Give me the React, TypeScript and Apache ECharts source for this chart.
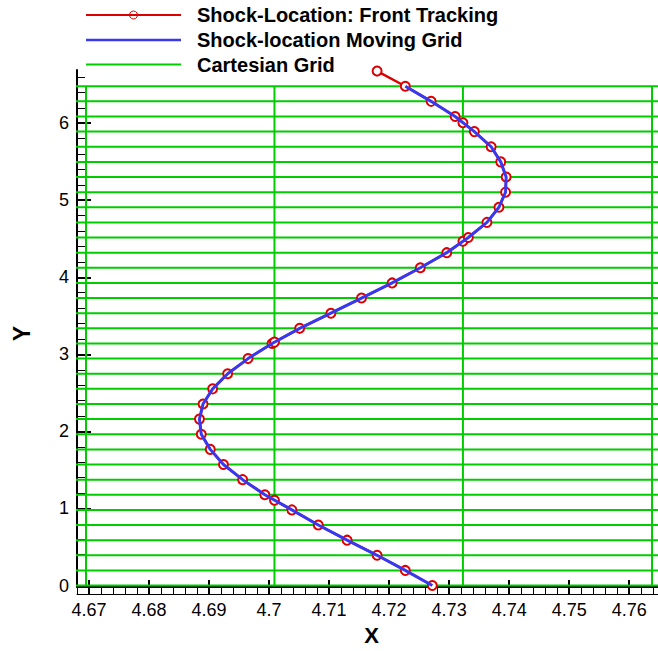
import React, { useEffect, useRef } from "react";
import * as echarts from "echarts";

// Shock location: front tracking (red, with circles)
const frontTrackingX = [4.7272, 4.7227, 4.718, 4.713, 4.7082, 4.7038, 4.7009, 4.6993, 4.6956, 4.6924, 4.6902, 4.6887, 4.6884, 4.689, 4.6906, 4.6931, 4.6965, 4.7005, 4.7009, 4.7051, 4.7103, 4.7154, 4.7205, 4.7252, 4.7296, 4.7323, 4.7332, 4.7363, 4.7383, 4.7394, 4.7395, 4.7386, 4.737, 4.7342, 4.7323, 4.731, 4.727, 4.7227, 4.718];
const frontTrackingY = [0, 0.1963, 0.3927, 0.589, 0.7854, 0.9817, 1.108, 1.1781, 1.3744, 1.5708, 1.7671, 1.9635, 2.1598, 2.3562, 2.5525, 2.7489, 2.9452, 3.1416, 3.159, 3.3379, 3.5343, 3.7306, 3.927, 4.1233, 4.3197, 4.467, 4.516, 4.7124, 4.9087, 5.1051, 5.3014, 5.4978, 5.6941, 5.8905, 6.006, 6.0868, 6.2832, 6.4795, 6.6759];

// Shock location on moving grid (blue)
const movingGridX = [4.7272, 4.7227, 4.718, 4.713, 4.7082, 4.7038, 4.6993, 4.6956, 4.6924, 4.6902, 4.6887, 4.6884, 4.689, 4.6906, 4.6931, 4.6965, 4.7005, 4.7051, 4.7103, 4.7154, 4.7205, 4.7252, 4.7296, 4.7332, 4.7363, 4.7383, 4.7394, 4.7395, 4.7386, 4.737, 4.7342, 4.731, 4.727, 4.7227];
const movingGridY = [0, 0.1963, 0.3927, 0.589, 0.7854, 0.9817, 1.1781, 1.3744, 1.5708, 1.7671, 1.9635, 2.1598, 2.3562, 2.5525, 2.7489, 2.9452, 3.1416, 3.3379, 3.5343, 3.7306, 3.927, 4.1233, 4.3197, 4.516, 4.7124, 4.9087, 5.1051, 5.3014, 5.4978, 5.6941, 5.8905, 6.0868, 6.2832, 6.4795];

// Cartesian grid lines
const cartesianRowsY = [0, 0.1963, 0.3927, 0.589, 0.7854, 0.9817, 1.1781, 1.3744, 1.5708, 1.7671, 1.9635, 2.1598, 2.3562, 2.5525, 2.7489, 2.9452, 3.1416, 3.3379, 3.5343, 3.7306, 3.927, 4.1233, 4.3197, 4.516, 4.7124, 4.9087, 5.1051, 5.3014, 5.4978, 5.6941, 5.8905, 6.0868, 6.2832, 6.4795];
const cartesianColsX = [4.6695, 4.7009, 4.7323, 4.7638];
const cartesianRowSpanX = [4.66, 4.77];
const cartesianColSpanY = [0, 6.4795];

// Axis ticks
const xMajorTicks = [4.67, 4.68, 4.69, 4.7, 4.71, 4.72, 4.73, 4.74, 4.75, 4.76];
const yMajorTicks = [0, 1, 2, 3, 4, 5, 6];
const yMinorTicks = [0.2, 0.4, 0.6, 0.8, 1.2, 1.4, 1.6, 1.8, 2.2, 2.4, 2.6, 2.8, 3.2, 3.4, 3.6, 3.8, 4.2, 4.4, 4.6, 4.8, 5.2, 5.4, 5.6, 5.8, 6.2, 6.4, 6.6];

const legendNames = ["Shock-Location: Front Tracking", "Shock-location Moving Grid", "Cartesian Grid"];

const RED = "#dd0000";
const BLUE = "#3838f0";
const GREEN = "#00cc00";
const FONT = '"Liberation Sans", Arial, Helvetica, sans-serif';

const X_MIN = 4.668;
const X_MAX = 4.7648;
const Y_MIN = -0.02;
const Y_MAX = 6.69;

export default function App() {
  const ref = useRef<HTMLDivElement>(null);

  useEffect(() => {
    if (!ref.current) return;
    const chart = echarts.init(ref.current, undefined, { renderer: "svg" });

    const zip = (xs: number[], ys: number[]) => xs.map((x, i) => [x, ys[i]]);

    const gridSeries: any[] = [];
    cartesianRowsY.forEach((y) => {
      gridSeries.push({
        type: "line",
        name: legendNames[2],
        data: [[cartesianRowSpanX[0], y], [cartesianRowSpanX[1], y]],
        symbol: "none",
        silent: true,
        lineStyle: { color: GREEN, width: 2 },
        z: 1,
      });
    });
    cartesianColsX.forEach((x) => {
      gridSeries.push({
        type: "line",
        name: legendNames[2],
        data: [[x, cartesianColSpanY[0]], [x, cartesianColSpanY[1]]],
        symbol: "none",
        silent: true,
        lineStyle: { color: GREEN, width: 2 },
        z: 1,
      });
    });

    const commonX = {
      type: "value",
      min: X_MIN,
      max: X_MAX,
      position: "bottom",
      splitLine: { show: false },
    };
    const commonY = {
      type: "value",
      min: Y_MIN,
      max: Y_MAX,
      position: "left",
      splitLine: { show: false },
    };

    const legendRowsY = [15, 40, 64.5];
    const legendColors = [RED, BLUE, GREEN];
    const legendWidths = [2, 2.5, 2];
    const graphic: any[] = [];
    legendNames.forEach((n, i) => {
      graphic.push({
        type: "line",
        shape: { x1: 86, y1: legendRowsY[i], x2: 181, y2: legendRowsY[i] },
        style: { stroke: legendColors[i], lineWidth: legendWidths[i] },
        silent: true,
      });
      graphic.push({
        type: "text",
        x: 197,
        y: legendRowsY[i],
        style: {
          text: n,
          fill: "#000",
          font: `bold 20px ${FONT}`,
          verticalAlign: "middle",
          align: "left",
        },
        silent: true,
      });
    });
    graphic.push({
      type: "circle",
      shape: { cx: 133.5, cy: legendRowsY[0], r: 4 },
      style: { fill: "none", stroke: RED, lineWidth: 1 },
      silent: true,
    });

    chart.setOption({
      animation: false,
      backgroundColor: "#fff",
      grid: { left: 77, right: 0, top: 70, bottom: 53.5, containLabel: false },
      graphic,
      xAxis: [
        {
          ...commonX,
          name: "X",
          nameLocation: "middle",
          nameGap: 32,
          nameTextStyle: { fontSize: 22, fontWeight: "bold", color: "#000", fontFamily: FONT, padding: [0, 0, 0, 8] },
          axisLine: { show: true, onZero: false, lineStyle: { color: "#000", width: 2 } },
          axisTick: { show: true, inside: true, length: 7, customValues: xMajorTicks, lineStyle: { color: "#000", width: 2 } },
          axisLabel: {
            show: true,
            customValues: xMajorTicks,
            margin: 14,
            fontSize: 18,
            color: "#000",
            fontFamily: FONT,
            formatter: (v: number) => String(+v.toFixed(3)),
          },
        },
        {
          ...commonX,
          axisLine: { show: false, onZero: false },
          axisTick: { show: true, inside: false, length: 8, customValues: xMajorTicks, lineStyle: { color: "#000", width: 2 } },
          axisLabel: { show: false },
        },
        {
          ...commonX,
          interval: 0.002,
          axisLine: { show: false, onZero: false },
          axisTick: { show: true, inside: false, length: 7, lineStyle: { color: "#000", width: 1 } },
          axisLabel: { show: false },
        },
        {
          ...commonX,
          offset: 7,
          axisLine: { show: true, onZero: false, lineStyle: { color: "#000", width: 1 } },
          axisTick: { show: false },
          axisLabel: { show: false },
        },
      ],
      yAxis: [
        {
          ...commonY,
          name: "Y",
          nameLocation: "middle",
          nameGap: 44,
          nameTextStyle: { fontSize: 23, fontWeight: "bold", color: "#000", fontFamily: FONT, padding: [0, 10, 0, 0] },
          axisLine: { show: true, onZero: false, lineStyle: { color: "#000", width: 2 } },
          axisTick: { show: true, inside: true, length: 14, customValues: yMajorTicks, lineStyle: { color: "#000", width: 2 } },
          axisLabel: {
            show: true,
            customValues: yMajorTicks,
            margin: 8,
            fontSize: 18,
            color: "#000",
            fontFamily: FONT,
          },
        },
        {
          ...commonY,
          axisLine: { show: false, onZero: false },
          axisTick: { show: true, inside: true, length: 8, customValues: yMinorTicks, lineStyle: { color: "#000", width: 1 } },
          axisLabel: { show: false },
        },
      ],
      series: [
        ...gridSeries,
        {
          type: "line",
          name: legendNames[0],
          data: zip(frontTrackingX, frontTrackingY),
          symbol: "emptyCircle",
          symbolSize: 9,
          showSymbol: true,
          silent: true,
          lineStyle: { color: RED, width: 2.4 },
          itemStyle: { color: RED, borderColor: RED, borderWidth: 1 },
          z: 2,
        },
        {
          type: "line",
          name: legendNames[1],
          data: zip(movingGridX, movingGridY),
          symbol: "none",
          silent: true,
          lineStyle: { color: BLUE, width: 3 },
          z: 3,
        },
      ],
    });

    return () => chart.dispose();
  }, []);

  return (
    <div
      ref={ref}
      style={{ position: "fixed", left: 0, top: 0, width: 658, height: 651, background: "#fff" }}
    />
  );
}
